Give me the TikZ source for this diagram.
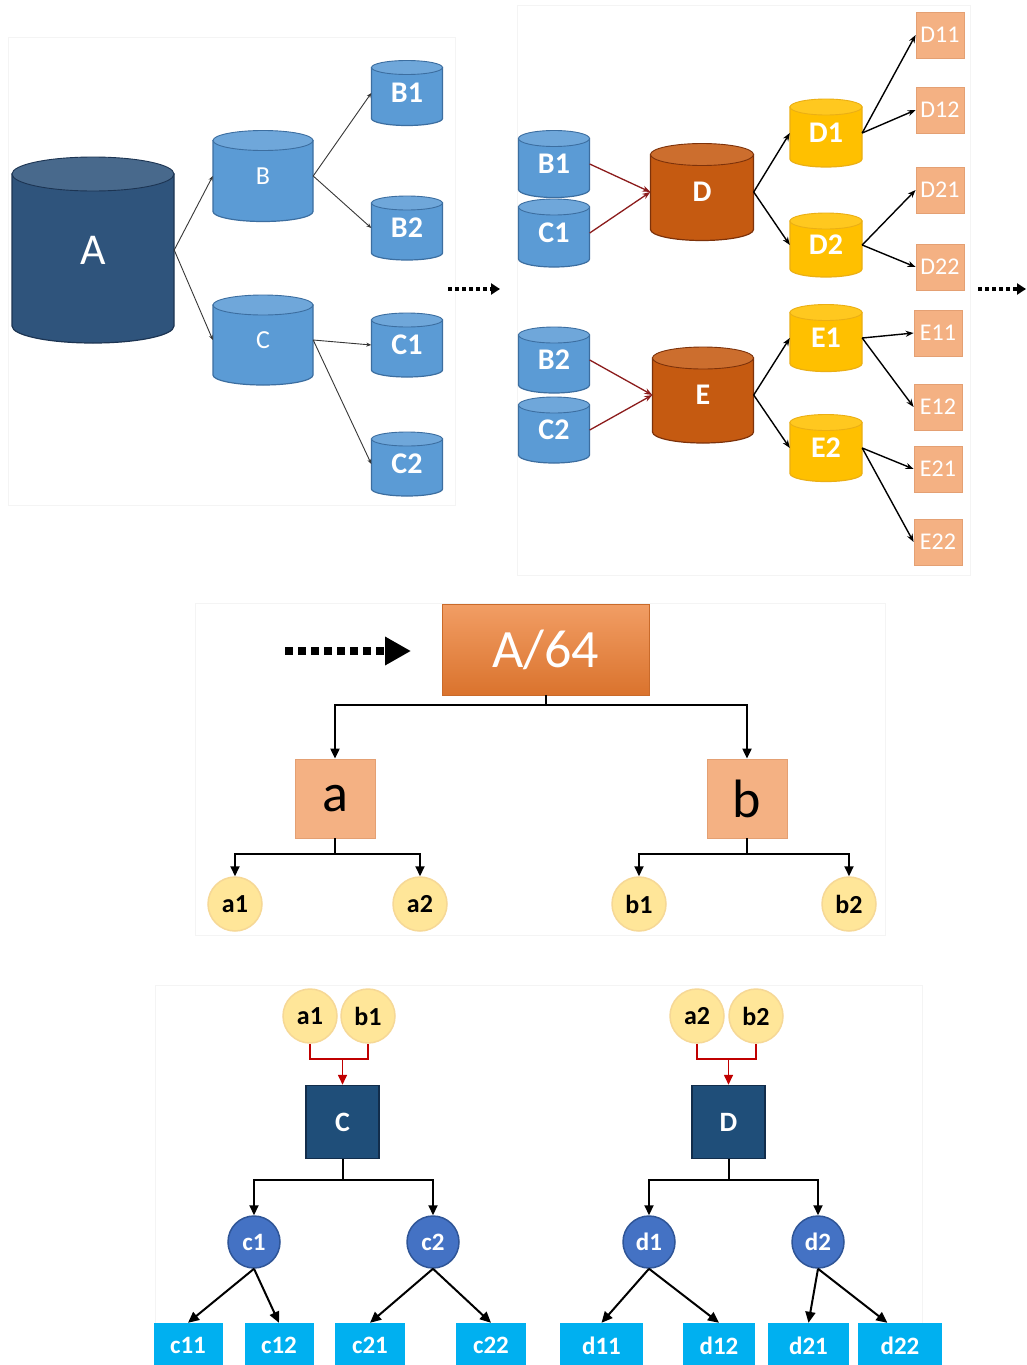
\documentclass[tikz,border=0pt]{standalone}
\usepackage{fontspec}
\setmainfont{Carlito}
\usetikzlibrary{arrows.meta,calc}
\definecolor{navyF}{RGB}{47,84,124}
\definecolor{navyL}{RGB}{28,52,82}
\definecolor{blueF}{RGB}{91,155,213}
\definecolor{blueL}{RGB}{60,110,160}
\definecolor{rustF}{RGB}{197,90,17}
\definecolor{rustL}{RGB}{125,50,10}
\definecolor{goldF}{RGB}{255,192,0}
\definecolor{goldL}{RGB}{235,175,20}
\definecolor{salF}{RGB}{244,177,131}
\definecolor{salL}{RGB}{228,160,115}
\definecolor{orgF}{RGB}{237,125,49}
\definecolor{paleF}{RGB}{255,230,153}
\definecolor{paleL}{RGB}{246,216,150}
\definecolor{boxF}{RGB}{31,78,121}
\definecolor{boxL}{RGB}{18,45,75}
\definecolor{circF}{RGB}{68,114,196}
\definecolor{circL}{RGB}{47,85,151}
\definecolor{cyanF}{RGB}{0,176,240}
\definecolor{darkred}{RGB}{140,28,28}
\definecolor{brightred}{RGB}{192,0,0}
\definecolor{lineG}{RGB}{55,55,55}
\definecolor{panelG}{RGB}{244,244,244}
\newcommand{\cyl}[9]{%
  \pgfmathsetmacro{\cyXl}{#2-#4/2}%
  \pgfmathsetmacro{\cyXr}{#2+#4/2}%
  \pgfmathsetmacro{\cyYt}{#3-#5/2+#6}%
  \pgfmathsetmacro{\cyYb}{#3+#5/2-#6}%
  \pgfmathsetmacro{\cyRx}{#4/2}%
  \filldraw[fill=#7, draw=#8, line width=1.2pt] (\cyXl,\cyYt) -- (\cyXl,\cyYb) arc[start angle=180, end angle=0, x radius=\cyRx, y radius=#6] -- (\cyXr,\cyYt) -- cycle;
  \filldraw[fill=#7!88!white, draw=#8, line width=0.9pt] (#2,\cyYt) ellipse[x radius=\cyRx, y radius=#6];
  \node[inner sep=0pt, minimum width=#4pt, minimum height=#5pt, text=white] (#1) at (#2,#3) {#9};
}
\newcommand{\bigB}[1]{{\bfseries\fontsize{30}{30}\selectfont #1}}
\tikzset{
  panel/.style={draw=panelG, line width=0.8pt},
  thinarrow/.style={draw=lineG, line width=0.9pt, -{Stealth[length=5pt,width=4pt]}},
  blkarrow/.style={draw=black, line width=1.4pt, -{Stealth[length=8pt,width=6pt]}},
  redarrow/.style={draw=darkred, line width=1.3pt, -{Stealth[length=8pt,width=6pt]}},
  sbox/.style={fill=salF, draw=salL, line width=0.8pt, minimum width=48pt, minimum height=46pt, inner sep=0pt, text=white, font=\fontsize{24}{24}\selectfont},
  dotarrow/.style={line width=3.5pt, dash pattern=on 4pt off 3pt, -{Triangle[length=9pt,width=11pt]}},
  bigdot/.style={line width=8pt, dash pattern=on 8pt off 5pt, -{Triangle[length=26pt,width=27pt]}},
  treeline/.style={draw=black, line width=2pt},
  treearrow/.style={treeline, -{Triangle[length=10pt,width=9pt]}},
  redtree/.style={draw=brightred, line width=1.6pt},
  redtreearrow/.style={redtree, -{Triangle[length=10pt,width=9pt]}},
  diagarrow/.style={draw=black, line width=2pt, -{Triangle[length=11pt,width=10pt]}},
  pbox/.style={fill=salF, draw=salL, line width=0.8pt, minimum width=80pt, minimum height=79pt, inner sep=0pt, text=black, font=\fontsize{54}{54}\selectfont},
  pcirc/.style={circle, fill=paleF, draw=paleL, line width=1.5pt, minimum size=54pt, inner sep=0pt, font=\bfseries\fontsize{26}{26}\selectfont},
  nbox/.style={fill=boxF, draw=boxL, line width=1.5pt, minimum width=73pt, minimum height=73pt, inner sep=0pt, text=white, font=\bfseries\fontsize{28}{28}\selectfont},
  bcirc/.style={circle, fill=circF, draw=circL, line width=1.5pt, minimum size=52pt, inner sep=0pt, text=white, font=\bfseries\fontsize{25}{25}\selectfont},
  cbox/.style={fill=cyanF, minimum height=45pt, inner sep=0pt, text=white, font=\bfseries\fontsize{25}{25}\selectfont},
}
\begin{document}
\begin{tikzpicture}[x=1pt,y=-1pt]
\useasboundingbox (0,0) rectangle (1026,1365);
\clip (0,0) rectangle (1026,1365);
\fill[white] (0,0) rectangle (1026,1365);
% panels
\draw[panel] (8,37) rectangle (455,505);
\draw[panel] (517,5) rectangle (970,575);
\draw[panel] (195,603) rectangle (885,935);
\draw[panel] (155,985) rectangle (922,1370);
% ---------- top left ----------
\cyl{A}{93}{250}{162}{186}{17}{navyF}{navyL}{\fontsize{44}{44}\selectfont A}
\cyl{B}{263}{176}{100}{91}{10}{blueF}{blueL}{\fontsize{26}{26}\selectfont B}
\cyl{C}{263}{340}{100}{90}{10}{blueF}{blueL}{\fontsize{26}{26}\selectfont C}
\cyl{B1}{407}{93}{71}{65}{7}{blueF}{blueL}{\bigB{B1}}
\cyl{B2}{407}{228}{71}{64}{7}{blueF}{blueL}{\bigB{B2}}
\cyl{C1}{407}{345}{71}{64}{7}{blueF}{blueL}{\bigB{C1}}
\cyl{C2}{407}{464}{71}{64}{7}{blueF}{blueL}{\bigB{C2}}
\draw[thinarrow] (A.east) -- (B.west);
\draw[thinarrow] (A.east) -- (C.west);
\draw[thinarrow] (B.east) -- (B1.west);
\draw[thinarrow] (B.east) -- (B2.west);
\draw[thinarrow] (C.east) -- (C1.west);
\draw[thinarrow] (C.east) -- (C2.west);
\coordinate (p1s) at (448,289);
\coordinate (p1e) at (500,289);
\draw[dotarrow] (p1s) -- (p1e);
% ---------- top right ----------
\cyl{B1r}{554}{164}{71}{67}{8}{blueF}{blueL}{\bigB{B1}}
\cyl{C1r}{554}{233}{71}{68}{8}{blueF}{blueL}{\bigB{C1}}
\cyl{Dc}{702}{192}{103}{97}{11}{rustF}{rustL}{\bigB{D}}
\cyl{D1}{826}{133}{72}{68}{8}{goldF}{goldL}{\bigB{D1}}
\cyl{D2}{826}{245}{72}{64}{8}{goldF}{goldL}{\bigB{D2}}
\cyl{B2r}{554}{360}{71}{66}{8}{blueF}{blueL}{\bigB{B2}}
\cyl{C2r}{554}{430}{71}{66}{8}{blueF}{blueL}{\bigB{C2}}
\cyl{Ec}{703}{395}{101}{96}{11}{rustF}{rustL}{\bigB{E}}
\cyl{E1}{826}{338}{72}{67}{8}{goldF}{goldL}{\bigB{E1}}
\cyl{E2}{826}{448}{72}{67}{8}{goldF}{goldL}{\bigB{E2}}
\node[sbox] (D11) at (940,35) {D11};
\node[sbox] (D12) at (940,110) {D12};
\node[sbox] (D21) at (940,190) {D21};
\node[sbox] (D22) at (940,267) {D22};
\node[sbox] (E11) at (938,333) {E11};
\node[sbox] (E12) at (938,407) {E12};
\node[sbox] (E21) at (938,469) {E21};
\node[sbox] (E22) at (938,542) {E22};
\draw[redarrow] (B1r.east) -- (Dc.west);
\draw[redarrow] (C1r.east) -- (Dc.west);
\draw[redarrow] (B2r.east) -- (Ec.west);
\draw[redarrow] (C2r.east) -- (Ec.west);
\draw[blkarrow] (Dc.east) -- (D1.west);
\draw[blkarrow] (Dc.east) -- (D2.west);
\draw[blkarrow] (Ec.east) -- (E1.west);
\draw[blkarrow] (Ec.east) -- (E2.west);
\draw[blkarrow] (D1.east) -- (D11.west);
\draw[blkarrow] (D1.east) -- (D12.west);
\draw[blkarrow] (D2.east) -- (D21.west);
\draw[blkarrow] (D2.east) -- (D22.west);
\draw[blkarrow] (E1.east) -- (E11.west);
\draw[blkarrow] (E1.east) -- (E12.west);
\draw[blkarrow] (E2.east) -- (E21.west);
\draw[blkarrow] (E2.east) -- (E22.west);
\coordinate (p2s) at (978,289);
\coordinate (p2e) at (1026,289);
\draw[dotarrow] (p2s) -- (p2e);
% ---------- middle ----------
\node[top color=orgF!75!white, bottom color=orgF!92!black, draw=orgF!85!black, line width=0.6pt,
      minimum width=207pt, minimum height=91pt, inner sep=0pt, text=white,
      font=\fontsize{54}{54}\selectfont] (A64) at (545.5,649.5) {A/64};
\coordinate (p3s) at (285,651);
\coordinate (p3e) at (411,651);
\draw[bigdot] (p3s) -- (p3e);
\node[pbox] (a) at (335,798.5) {a};
\node[pbox] (b) at (747,798.5) {b};
\node[pcirc] (a1m) at (235,904) {a1};
\node[pcirc] (a2m) at (420,904) {a2};
\node[pcirc] (b1m) at (639,904) {b1};
\node[pcirc] (b2m) at (849,904) {b2};
\draw[treearrow] (A64.south) -- ++(0,10) -| (a.north);
\draw[treearrow] (A64.south) -- ++(0,10) -| (b.north);
\draw[treearrow] (a.south) -- ++(0,16) -| (a1m.north);
\draw[treearrow] (a.south) -- ++(0,16) -| (a2m.north);
\draw[treearrow] (b.south) -- ++(0,16) -| (b1m.north);
\draw[treearrow] (b.south) -- ++(0,16) -| (b2m.north);
% ---------- bottom ----------
\node[pcirc] (a1b) at (310,1016) {a1};
\node[pcirc] (b1b) at (368,1016) {b1};
\node[pcirc] (a2b) at (697,1016) {a2};
\node[pcirc] (b2b) at (756,1016) {b2};
\node[nbox] (Cb) at (342.5,1122) {C};
\node[nbox] (Db) at (728.5,1122) {D};
\draw[redtree] (a1b.south) -- ++(0,15) coordinate (r1) -| (b1b.south);
\draw[redtreearrow] (r1 -| Cb.north) -- (Cb.north);
\draw[redtree] (a2b.south) -- ++(0,15) coordinate (r2) -| (b2b.south);
\draw[redtreearrow] (r2 -| Db.north) -- (Db.north);
\node[bcirc] (c1) at (254,1242) {c1};
\node[bcirc] (c2) at (433,1242) {c2};
\node[bcirc] (d1) at (649,1242) {d1};
\node[bcirc] (d2) at (818,1242) {d2};
\draw[treearrow] (Cb.south) -- ++(0,21) -| (c1.north);
\draw[treearrow] (Cb.south) -- ++(0,21) -| (c2.north);
\draw[treearrow] (Db.south) -- ++(0,21) -| (d1.north);
\draw[treearrow] (Db.south) -- ++(0,21) -| (d2.north);
\node[cbox, minimum width=69pt] (c11) at (188,1345.5) {c11};
\node[cbox, minimum width=69pt] (c12) at (279,1345.5) {c12};
\node[cbox, minimum width=70pt] (c21) at (370,1345.5) {c21};
\node[cbox, minimum width=70pt] (c22) at (491,1345.5) {c22};
\node[cbox, minimum width=83pt] (d11) at (601.5,1345.5) {d11};
\node[cbox, minimum width=72pt] (d12) at (719,1345.5) {d12};
\node[cbox, minimum width=81pt] (d21) at (808.5,1345.5) {d21};
\node[cbox, minimum width=84pt] (d22) at (900,1345.5) {d22};
\draw[diagarrow] (c1.south) -- (c11.north);
\draw[diagarrow] (c1.south) -- (c12.north);
\draw[diagarrow] (c2.south) -- (c21.north);
\draw[diagarrow] (c2.south) -- (c22.north);
\draw[diagarrow] (d1.south) -- (d11.north);
\draw[diagarrow] (d1.south) -- (d12.north);
\draw[diagarrow] (d2.south) -- (d21.north);
\draw[diagarrow] (d2.south) -- ($(d22.north west)!0.35!(d22.north east)$);
\end{tikzpicture}
\end{document}
